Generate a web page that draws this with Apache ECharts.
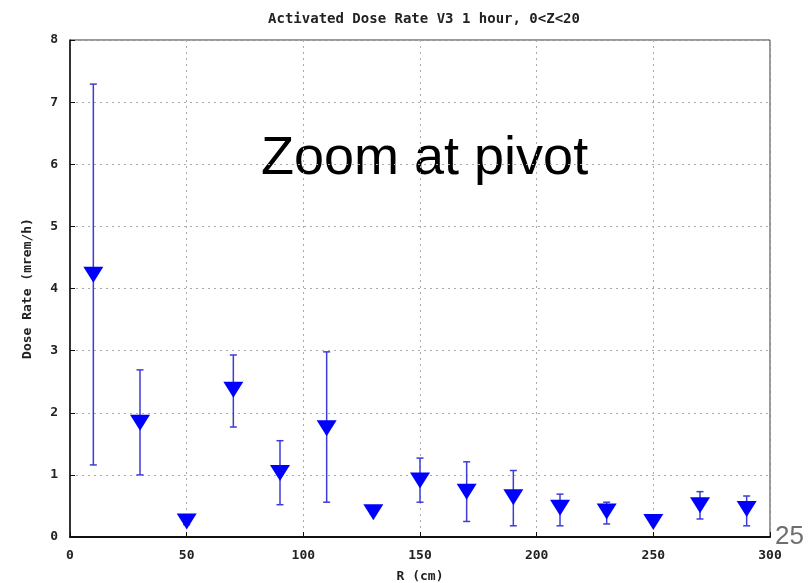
<!DOCTYPE html>
<html><head><meta charset="utf-8">
<script src="https://cdn.jsdelivr.net/npm/echarts@6/dist/echarts.min.js"></script>
<style>html,body{margin:0;padding:0;background:#fff}#c{width:811px;height:583px}</style>
</head><body><div id="c"></div>
<script>
const rValues = [10, 30, 50, 70, 90, 110, 130, 150, 170, 190, 210, 230, 250, 270, 290];
const doseRate = [4.22, 1.84, 0.25, 2.37, 1.03, 1.75, 0.40, 0.91, 0.73, 0.64, 0.47, 0.41, 0.24, 0.51, 0.45];
const errLow = [1.16, 1.00, 0.20, 1.77, 0.52, 0.56, 0.37, 0.56, 0.25, 0.18, 0.18, 0.21, 0.22, 0.29, 0.18];
const errHigh = [7.29, 2.69, 0.31, 2.93, 1.55, 2.98, 0.44, 1.27, 1.21, 1.07, 0.69, 0.56, 0.27, 0.73, 0.66];
const xTicks = [0, 50, 100, 150, 200, 250, 300];
const yTicks = [0, 1, 2, 3, 4, 5, 6, 7, 8];

const chart = echarts.init(document.getElementById('c'));
const lblFont = {fontFamily: 'DejaVu Sans Mono', fontWeight: 'bold', fontSize: 13, color: '#222'};
chart.setOption({
  animation: false,
  title: {
    text: 'Activated Dose Rate V3 1 hour, 0<Z<20',
    left: 419, top: 7, textAlign: 'center',
    textStyle: {fontFamily: 'DejaVu Sans Mono', fontWeight: 'bold', fontSize: 14, color: '#222'}
  },
  grid: {left: 70, right: 41, top: 40, bottom: 46, containLabel: false, outerBoundsMode: 'none',
         show: true, borderColor: '#333', borderWidth: 1},
  xAxis: {
    type: 'value', min: 0, max: 300, interval: 50,
    name: 'R (cm)', nameLocation: 'middle', nameGap: 33, nameTextStyle: lblFont,
    axisLine: {lineStyle: {color: '#111', width: 2}},
    axisTick: {inside: true, length: 5, lineStyle: {color: '#111'}},
    axisLabel: Object.assign({margin: 12, formatter: v => xTicks.includes(v) ? String(v) : ''}, lblFont),
    splitLine: {show: true, lineStyle: {color: '#aaa', type: [2, 4]}}
  },
  yAxis: {
    type: 'value', min: 0, max: 8, interval: 1,
    name: 'Dose Rate (mrem/h)', nameLocation: 'middle', nameGap: 36, nameTextStyle: lblFont,
    axisLine: {lineStyle: {color: '#111', width: 1.5}},
    axisTick: {inside: true, length: 5, lineStyle: {color: '#111'}},
    axisLabel: Object.assign({margin: 12, formatter: v => yTicks.includes(v) ? String(v) : ''}, lblFont),
    splitLine: {show: true, lineStyle: {color: '#aaa', type: [2, 4]}}
  },
  graphic: [
    {type: 'text', left: 261, top: 132, style: {text: 'Zoom at pivot', fontFamily: 'Liberation Sans', fontSize: 54, fill: '#000'}},
    {type: 'text', left: 775, top: 524, style: {text: '25', fontFamily: 'Liberation Sans', fontSize: 26, fill: '#6e6e6e'}}
  ],
  series: [
    {
      type: 'custom',
      data: rValues.map((r, i) => [r, errLow[i], errHigh[i]]),
      renderItem: function (params, api) {
        const x = api.value(0);
        const lo = api.coord([x, api.value(1)]);
        const hi = api.coord([x, api.value(2)]);
        const w = 3.5;
        const st = {stroke: '#3d3dd6', lineWidth: 1.5};
        return {type: 'group', children: [
          {type: 'line', shape: {x1: lo[0], y1: lo[1], x2: hi[0], y2: hi[1]}, style: st},
          {type: 'line', shape: {x1: lo[0] - w, y1: lo[1], x2: lo[0] + w, y2: lo[1]}, style: st},
          {type: 'line', shape: {x1: hi[0] - w, y1: hi[1], x2: hi[0] + w, y2: hi[1]}, style: st}
        ]};
      },
      z: 2
    },
    {
      type: 'scatter',
      data: rValues.map((r, i) => [r, doseRate[i]]),
      symbol: 'triangle', symbolRotate: 180, symbolSize: [20, 16],
      itemStyle: {color: '#0000ff', opacity: 1},
      z: 3
    }
  ]
});
</script></body></html>
